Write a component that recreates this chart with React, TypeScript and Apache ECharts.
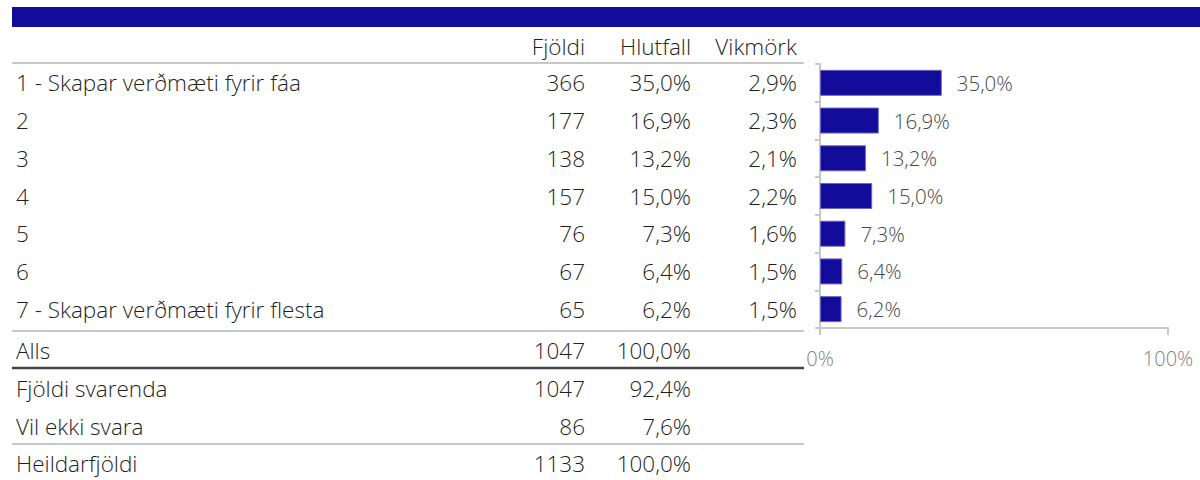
import React, { useEffect, useRef } from "react";
import * as echarts from "echarts";

const categories = [
  "1 - Skapar verðmæti fyrir fáa",
  "2",
  "3",
  "4",
  "5",
  "6",
  "7 - Skapar verðmæti fyrir flesta",
];
const counts = [366, 177, 138, 157, 76, 67, 65];
const shares = [35.0, 16.9, 13.2, 15.0, 7.3, 6.4, 6.2];
const margins = [2.9, 2.3, 2.1, 2.2, 1.6, 1.5, 1.5];
const headers = ["Fjöldi", "Hlutfall", "Vikmörk"];
const summaryLabels = ["Alls", "Fjöldi svarenda", "Vil ekki svara", "Heildarfjöldi"];
const summaryCounts = [1047, 1047, 86, 1133];
const summaryShares = [100.0, 92.4, 7.6, 100.0];
const axisTicks = [0, 100];

const FONT = "Open Sans";
const fmt = (v: number) => v.toFixed(1).replace(".", ",") + "%";

export default function App() {
  const ref = useRef<HTMLDivElement>(null);
  useEffect(() => {
    if (!ref.current) return;
    const chart = echarts.init(ref.current, undefined, { renderer: "svg" });
    const gridTop = 64;
    const gridBottomY = 328;
    const band = (gridBottomY - gridTop) / categories.length;
    const colX = [585, 691, 797];
    const textStyle = { fontFamily: FONT, fontSize: 22.5, fontWeight: 300, fill: "#1f1f1f" };
    const graphics: any[] = [];
    graphics.push({
      type: "rect",
      shape: { x: 12, y: 7, width: 1188, height: 20 },
      style: { fill: "#130C9A" },
    });
    headers.forEach((h, i) => {
      graphics.push({
        type: "text",
        x: colX[i],
        y: 46,
        style: { ...textStyle, text: h, align: "right", verticalAlign: "middle" },
      });
    });
    categories.forEach((c, i) => {
      const y = gridTop + (i + 0.5) * band;
      graphics.push({
        type: "text",
        x: 16,
        y,
        style: { ...textStyle, text: c, align: "left", verticalAlign: "middle" },
      });
      [String(counts[i]), fmt(shares[i]), fmt(margins[i])].forEach((t, j) => {
        graphics.push({
          type: "text",
          x: colX[j],
          y,
          style: { ...textStyle, text: t, align: "right", verticalAlign: "middle" },
        });
      });
    });
    const sumY = [350, 388, 426, 463];
    summaryLabels.forEach((s, i) => {
      graphics.push({
        type: "text",
        x: 16,
        y: sumY[i],
        style: { ...textStyle, text: s, align: "left", verticalAlign: "middle" },
      });
      [String(summaryCounts[i]), fmt(summaryShares[i])].forEach((t, j) => {
        graphics.push({
          type: "text",
          x: colX[j],
          y: sumY[i],
          style: { ...textStyle, text: t, align: "right", verticalAlign: "middle" },
        });
      });
    });
    const lines = [
      { y: 63, color: "#c8c8c8", w: 2 },
      { y: 331, color: "#c3c8cd", w: 2 },
      { y: 368, color: "#40454a", w: 2.5 },
      { y: 444, color: "#c3c8cd", w: 2 },
    ];
    lines.forEach((l) => {
      graphics.push({
        type: "line",
        shape: { x1: 12, y1: l.y, x2: 804, y2: l.y },
        style: { stroke: l.color, lineWidth: l.w },
      });
    });

    chart.setOption({
      animation: false,
      graphic: graphics,
      grid: { left: 820, right: 32, top: gridTop, bottom: 480 - gridBottomY },
      xAxis: {
        type: "value",
        min: axisTicks[0],
        max: axisTicks[1],
        interval: 100,
        splitLine: { show: false },
        axisLine: { show: true, lineStyle: { color: "#c8c8c8", width: 2 } },
        axisTick: { show: true, length: 7, lineStyle: { color: "#c8c8c8", width: 2 } },
        axisLabel: {
          formatter: (v: number) => v + "%",
          color: "#7f7f7f",
          fontFamily: FONT,
          fontWeight: 300,
          fontSize: 20,
          margin: 20,
        },
      },
      yAxis: {
        type: "category",
        data: categories,
        inverse: true,
        axisLine: { show: true, lineStyle: { color: "#c8c8c8", width: 2 } },
        axisTick: { show: true, length: 5, lineStyle: { color: "#c8c8c8", width: 2 } },
        axisLabel: { show: false },
      },
      series: [
        {
          type: "bar",
          data: shares,
          barWidth: 26,
          itemStyle: { color: "#130C9A", borderColor: "#6a66c4", borderWidth: 1 },
          label: {
            show: true,
            position: "right",
            distance: 15,
            formatter: (p: any) => fmt(p.value),
            color: "#474747",
            fontFamily: FONT,
            fontWeight: 300,
            fontSize: 20.5,
          },
        },
      ],
    });
    return () => chart.dispose();
  }, []);
  return (
    <div
      ref={ref}
      style={{ position: "fixed", left: 0, top: 0, width: 1200, height: 480, background: "#fff" }}
    />
  );
}
